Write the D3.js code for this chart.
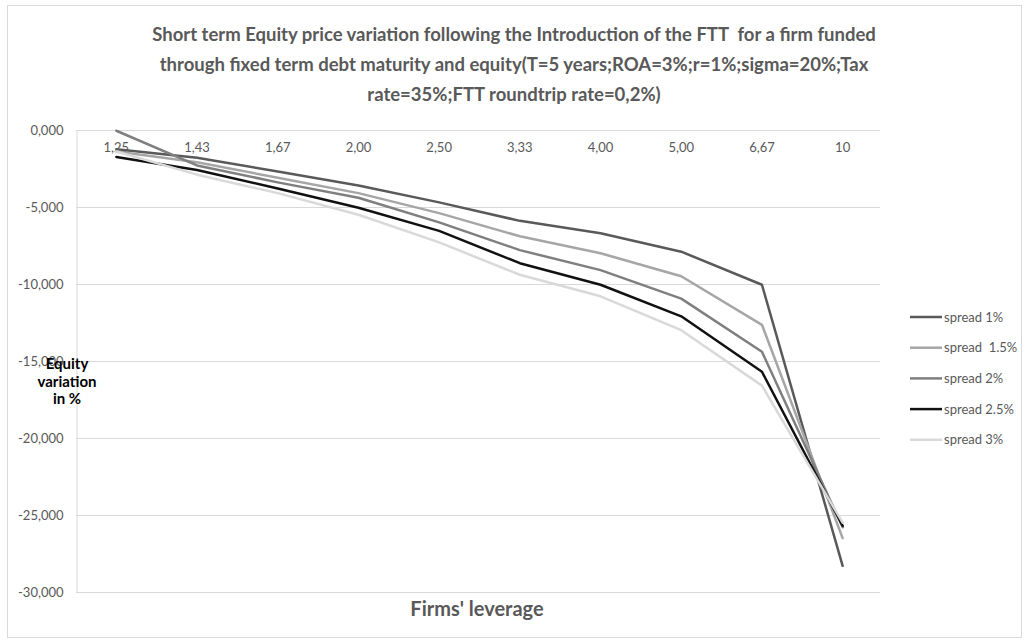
<!DOCTYPE html>
<html>
<head>
<meta charset="utf-8">
<script src="https://cdn.jsdelivr.net/npm/d3@7"></script>
<style>
  body { margin: 0; background: #fff; }
  text { font-family: Lato, "Open Sans", sans-serif; }
</style>
</head>
<body>
<div id="chart"></div>
<script>
// datos
const leverage = ["1,25", "1,43", "1,67", "2,00", "2,50", "3,33", "4,00", "5,00", "6,67", "10"]
const seriesNames = ["spread 1%", "spread  1.5%", "spread 2%", "spread 2.5%", "spread 3%"]
const spread1 = [-1.25, -1.8, -2.7, -3.6, -4.7, -5.9, -6.7, -7.9, -10.05, -28.3]
const spread15 = [-1.4, -2.1, -3.1, -4.1, -5.4, -6.9, -8.0, -9.5, -12.65, -26.5]
const spread2 = [-0.05, -2.3, -3.4, -4.4, -6.0, -7.8, -9.1, -10.95, -14.4, -25.8]
const spread25 = [-1.75, -2.6, -3.8, -5.05, -6.55, -8.65, -10.05, -12.1, -15.7, -25.7]
const spread3 = [-1.4, -2.9, -4.1, -5.5, -7.3, -9.4, -10.8, -13.0, -16.6, -25.5]
const yTicks = [0, -5, -10, -15, -20, -25, -30]

const seriesValues = [spread1, spread15, spread2, spread25, spread3]
const colors = ["#595959", "#a6a6a6", "#7f7f7f", "#111111", "#d9d9d9"]

// constantes
const width = 1029
const height = 644
const plot = { left: 76, right: 883, top: 130, bottom: 592 }

const svg = d3.select("div#chart")
    .append("svg")
    .attr("width", width)
    .attr("height", height)

// borde del gráfico
svg.append("rect")
    .attr("x", 7.5).attr("y", 5.5)
    .attr("width", 1014).attr("height", 632)
    .attr("fill", "#fff")
    .attr("stroke", "#d9d9d9")

// escalas
const x = d3.scaleBand()
    .domain(leverage)
    .range([plot.left, plot.right])
const y = d3.scaleLinear()
    .domain([-30, 0])
    .range([plot.bottom, plot.top])

// rejilla
const grid = svg.append("g").attr("class", "grid")
grid.selectAll("line")
    .data(yTicks)
    .join("line")
    .attr("x1", plot.left).attr("x2", 880)
    .attr("y1", d => Math.round(y(d)) + 0.5)
    .attr("y2", d => Math.round(y(d)) + 0.5)
    .attr("stroke", "#d9d9d9")
    .attr("stroke-width", 1)

// eje y
const yAxis = d3.axisLeft(y)
    .tickValues(yTicks)
    .tickSize(0)
    .tickPadding(13)
    .tickFormat(d => d3.format(".3f")(d).replace(".", ",").replace("−", "-"))
const yAxisGroup = svg.append("g")
    .attr("transform", `translate(${plot.left + 0.5},0)`)
    .call(yAxis)
yAxisGroup.select(".domain").attr("stroke", "#d9d9d9")
yAxisGroup.selectAll("text")
    .attr("fill", "#595959")
    .style("font-size", "13px")

// eje x (cruza en 0, etiquetas arriba dentro del área)
const xAxis = d3.axisBottom(x).tickSize(0).tickPadding(13)
const xAxisGroup = svg.append("g")
    .attr("transform", `translate(0,${y(0)})`)
    .call(xAxis)
xAxisGroup.select(".domain").remove()
xAxisGroup.selectAll("text")
    .attr("fill", "#595959")
    .style("font-size", "13px")

// líneas
const line = d3.line()
    .x((d, i) => x(leverage[i]) + x.bandwidth() / 2)
    .y(d => y(d))

svg.append("g").attr("class", "series")
    .selectAll("path")
    .data(seriesValues)
    .join("path")
    .attr("d", d => line(d))
    .attr("fill", "none")
    .attr("stroke", (d, i) => colors[i])
    .attr("stroke-width", 2.5)
    .attr("stroke-linejoin", "round")
    .attr("stroke-linecap", "round")

// leyenda
const legend = svg.append("g")
    .attr("transform", "translate(910,317)")
const items = legend.selectAll("g")
    .data(seriesNames)
    .join("g")
    .attr("transform", (d, i) => `translate(0,${i * 30.7})`)
items.append("line")
    .attr("x1", 0).attr("x2", 32)
    .attr("stroke", (d, i) => colors[i])
    .attr("stroke-width", 2.5)
items.append("text")
    .attr("x", 34).attr("y", 4.5)
    .attr("fill", "#595959")
    .style("font-size", "13px")
    .style("white-space", "pre")
    .text(d => d)

// título
const titleLines = [
    "Short term Equity price variation following the Introduction of the FTT  for a firm funded",
    "through fixed term debt maturity and equity(T=5 years;ROA=3%;r=1%;sigma=20%;Tax",
    "rate=35%;FTT roundtrip rate=0,2%)"
]
svg.append("g").selectAll("text")
    .data(titleLines)
    .join("text")
    .attr("x", 514)
    .attr("y", (d, i) => 41 + i * 30)
    .attr("text-anchor", "middle")
    .attr("fill", "#595959")
    .style("font-size", "18.5px")
    .style("font-weight", "bold")
    .style("white-space", "pre")
    .text(d => d)

// título eje y
svg.append("g").selectAll("text")
    .data(["Equity", "variation", "in %"])
    .join("text")
    .attr("x", 67)
    .attr("y", (d, i) => 369 + i * 17.5)
    .attr("text-anchor", "middle")
    .attr("fill", "#000")
    .style("font-size", "15px")
    .style("font-weight", "bold")
    .text(d => d)

// título eje x
svg.append("text")
    .attr("x", 477)
    .attr("y", 616)
    .attr("text-anchor", "middle")
    .attr("fill", "#595959")
    .style("font-size", "20px")
    .style("font-weight", "bold")
    .text("Firms' leverage")
</script>
</body>
</html>
